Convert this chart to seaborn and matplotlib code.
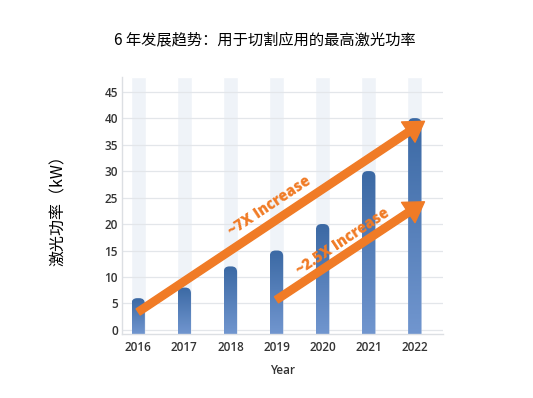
import numpy as np
import pandas as pd
import matplotlib
matplotlib.use("Agg")
import matplotlib.pyplot as plt
import seaborn as sns
from matplotlib.patches import FancyBboxPatch

# ---- data ----
years = ["2016", "2017", "2018", "2019", "2020", "2021", "2022"]
power_kw = [6, 8, 12, 15, 20, 30, 40]
y_ticks = [0, 5, 10, 15, 20, 25, 30, 35, 40, 45]

title = "6 年发展趋势：用于切割应用的最高激光功率"
y_label = "激光功率（kW）"
x_label = "Year"

# annotation arrows (category index, value)
arrow_7x_tail = (0.0, 3.4)
arrow_7x_head = (6.21, 39.4)
arrow_7x_text = "~7X Increase"
arrow_7x_text_pos = (2.86, 23.3)
arrow_25x_tail = (3.0, 5.7)
arrow_25x_head = (6.21, 24.2)
arrow_25x_text = "~2.5X Increase"
arrow_25x_text_pos = (4.45, 16.6)

ORANGE = "#f07b26"
BAR_TOP = "#3b69a4"
BAR_BOTTOM = "#7196cf"
BG_COL = "#eff3f8"
GRID = "#e3e6ea"
TEXT = "#333333"

sns.set_theme(style="white")
plt.rcParams["font.family"] = ["Open Sans", "DejaVu Sans"]

df = pd.DataFrame({"year": years, "power": power_kw})

fig = plt.figure(figsize=(5.33, 3.98), dpi=100)
ax = fig.add_axes([0.229, 0.161, 0.602, 0.646])

ylim = (-0.75, 47.8)
xlim = (-0.35, 6.61)

# light background columns
bg = pd.DataFrame({"year": years, "h": [ylim[1] - ylim[0]] * len(years)})
sns.barplot(data=bg, x="year", y="h", color=BG_COL, width=0.33, ax=ax,
            bottom=ylim[0], zorder=0, saturation=1)
n_bg = len(ax.patches)

sns.barplot(data=df, x="year", y="power", color=BAR_TOP, width=0.29, ax=ax,
            zorder=2, saturation=1)

ax.set_xlim(*xlim)
ax.set_ylim(*ylim)

# gradient + rounded tops
cmap = matplotlib.colors.LinearSegmentedColormap.from_list("g", [BAR_BOTTOM, BAR_TOP])
grad = np.linspace(0, 1, 256).reshape(-1, 1)
fig.canvas.draw()
bb = ax.get_window_extent()
xpp = (xlim[1] - xlim[0]) / bb.width
ypp = (ylim[1] - ylim[0]) / bb.height
aspect = ypp / xpp
for p in ax.patches[n_bg:]:
    x0 = p.get_x()
    w = p.get_width()
    h = p.get_height()
    r = w * 0.42
    fb = FancyBboxPatch((x0, ylim[0] - 3), w, h - ylim[0] + 3,
                        boxstyle=f"round,pad=0,rounding_size={r}",
                        mutation_aspect=aspect, facecolor="none",
                        edgecolor="none", transform=ax.transData)
    ax.add_patch(fb)
    im = ax.imshow(grad, extent=(x0, x0 + w, ylim[0], h), origin="lower",
                   cmap=cmap, aspect="auto", zorder=2, interpolation="bilinear")
    im.set_clip_path(fb)
    p.set_visible(False)

ax.set_xlim(*xlim)
ax.set_ylim(*ylim)

# grid and spines
ax.set_yticks(y_ticks)
ax.yaxis.grid(True, color=GRID, linewidth=0.9, zorder=1)
ax.set_axisbelow(True)
for s in ["top", "right"]:
    ax.spines[s].set_visible(False)
for s in ["left", "bottom"]:
    ax.spines[s].set_color("#dcdfe3")
    ax.spines[s].set_linewidth(1.0)
ax.tick_params(axis="both", length=0, labelsize=8.5, labelcolor=TEXT)
ax.tick_params(axis="x", pad=5)
ax.tick_params(axis="y", pad=3)
for lab in ax.get_xticklabels() + ax.get_yticklabels():
    lab.set_fontweight("semibold")

ax.set_xlabel(x_label, fontsize=8.5, color=TEXT, labelpad=7, fontweight="semibold")
ax.set_ylabel("")
fig.text(58 / 533, 1 - 207 / 398, y_label, rotation=90, ha="center", va="center",
         fontsize=11.5, color="black",
         family=["Noto Sans CJK SC", "DejaVu Sans"])
fig.text(265 / 533, 1 - 40 / 398, title, ha="center", va="center",
         fontsize=11, color="black",
         family=["Noto Sans CJK SC", "DejaVu Sans"])

# arrows
arrow_style = "simple,head_length=1.0,head_width=1.25,tail_width=0.38"
for tail, head in [(arrow_7x_tail, arrow_7x_head), (arrow_25x_tail, arrow_25x_head)]:
    ax.annotate("", xy=head, xytext=tail,
                arrowprops=dict(arrowstyle=arrow_style, color=ORANGE,
                                mutation_scale=14, shrinkA=0, shrinkB=0),
                zorder=5)

for txt, pos in [(arrow_7x_text, arrow_7x_text_pos), (arrow_25x_text, arrow_25x_text_pos)]:
    ax.text(pos[0], pos[1], txt, rotation=33.5, ha="center", va="center",
            rotation_mode="anchor", color=ORANGE, fontsize=10.5, fontweight="heavy",
            zorder=6)

fig.savefig("out.png", dpi=100, facecolor="white")
